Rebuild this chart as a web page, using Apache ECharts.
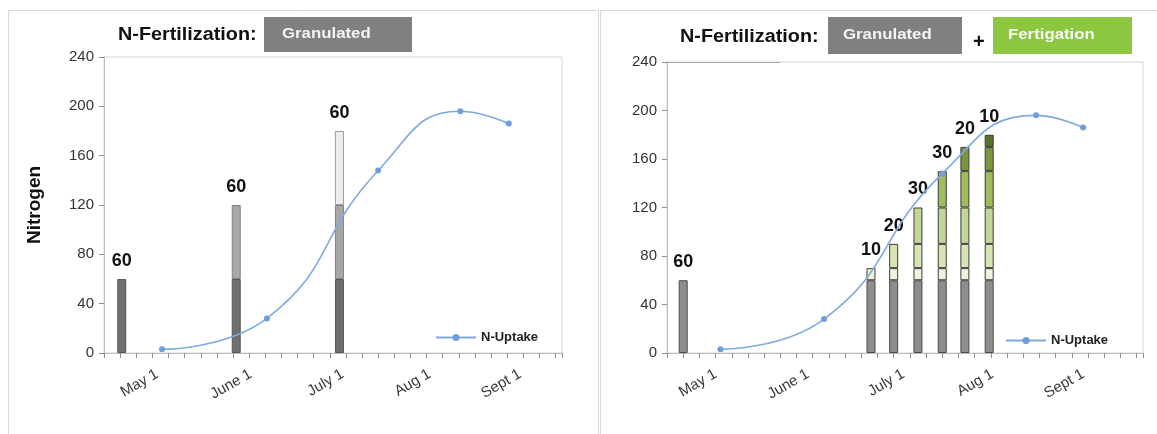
<!DOCTYPE html>
<html>
<head>
<meta charset="utf-8">
<script src="https://cdn.jsdelivr.net/npm/echarts@6/dist/echarts.min.js"></script>
<style>
  html, body { margin: 0; padding: 0; background: #ffffff; }
  #chart { width: 1157px; height: 434px; }
</style>
</head>
<body>
<div id="chart"></div>
<script>
// x positions are days counted from April 14 (day 0)
const monthLabels = ['May 1', 'June 1', 'July 1', 'Aug 1', 'Sept 1'];
const leftMonthDays = [16.5, 45.5, 74, 101, 129];
const rightMonthDays = [15, 43.5, 73, 100.5, 128.5];

// crop N uptake
const uptakeValues = [3, 28, 148, 196, 186];
const leftUptakeDays = [18, 50.5, 85, 110.5, 125.5];
const rightUptakeDays = [16.5, 48.5, 85, 114, 128.5];

// granulated only: three applications
const leftApplyDays = [5.5, 41, 73];
const leftApplyAmounts = [60, 60, 60];

// granulated start + weekly fertigation
const rightApplyDays = [5, 63, 70, 77.5, 85, 92, 99.5];
const rightApplyAmounts = [60, 10, 20, 30, 30, 20, 10];

const FONT = "'Liberation Sans', Arial, sans-serif";

const leftColors = ['#6f6f6f', '#a7a7a7', '#eeeeee'];
const leftBorders = ['#585858', '#828282', '#9c9c9c'];
const rightColors = ['#8e8e8e', '#eef3dc', '#d7e4b3', '#c2d699', '#9ebd5b', '#78963b', '#57742b'];
const rightBorders = ['#4a4a4a', '#3c3c3c', '#3c3c3c', '#3c3c3c', '#3c3c3c', '#3c3c3c', '#3c3c3c'];

// Every bar shows the cumulative N applied so far; its newest dose sits on top and is labelled.
// Items are stored as [amount, day] so the amount is the dimension that gets stacked.
function cumulativeBars(days, amounts, colors, borders, axisIndex, stackName) {
  return amounts.map((amt, j) => ({
    type: 'bar',
    xAxisIndex: axisIndex,
    yAxisIndex: axisIndex,
    stack: stackName,
    barWidth: 9,
    encode: { x: 1, y: 0 },
    data: days.map((d, k) => k >= j
      ? { value: [amt, d], label: { show: k === j } }
      : { value: [null, d] }),
    itemStyle: { color: colors[j], borderColor: borders[j], borderWidth: 1 },
    label: {
      show: false,
      position: 'top',
      distance: 9,
      formatter: p => p.value[0],
      fontFamily: FONT,
      fontWeight: 'bold',
      fontSize: 18,
      color: '#111'
    },
    emphasis: { disabled: true },
    z: 2
  }));
}

function uptakeLine(days, axisIndex) {
  return {
    type: 'line',
    name: 'N-Uptake',
    xAxisIndex: axisIndex,
    yAxisIndex: axisIndex,
    data: days.map((d, i) => [d, uptakeValues[i]]),
    smooth: 0.5,
    symbol: 'circle',
    symbolSize: 6,
    lineStyle: { color: '#80a9dd', width: 1.6 },
    itemStyle: { color: '#6f9ed8' },
    z: 5
  };
}

function xAxisFor(gridIndex, maxDay, labelDays) {
  return {
    type: 'value',
    gridIndex,
    min: 0,
    max: maxDay,
    interval: 5,
    axisLine: { show: true, lineStyle: { color: '#bdbdbd', width: 1 } },
    axisTick: { show: true, length: 5, lineStyle: { color: '#8f8f8f' } },
    axisLabel: {
      customValues: labelDays,
      formatter: v => monthLabels[labelDays.indexOf(v)],
      rotate: 30,
      margin: 20,
      fontFamily: FONT,
      fontSize: 15,
      color: '#383838'
    },
    splitLine: { show: false }
  };
}

function yAxisFor(gridIndex, withName) {
  const axis = {
    type: 'value',
    gridIndex,
    min: 0,
    max: 240,
    interval: 40,
    axisLine: { show: true, lineStyle: { color: '#bdbdbd', width: 1 } },
    axisTick: { show: true, length: 5, lineStyle: { color: '#8f8f8f' } },
    axisLabel: { fontFamily: FONT, fontSize: 15, color: '#333', margin: 10 },
    splitLine: { show: false }
  };
  if (withName) {
    axis.name = 'Nitrogen';
    axis.nameLocation = 'middle';
    axis.nameGap = 60;
    axis.nameTextStyle = { fontFamily: FONT, fontWeight: 'bold', fontSize: 19, color: '#111' };
  }
  return axis;
}

function headerText(x, y, text, size, color, stretch) {
  return {
    type: 'text', x, y, scaleX: stretch, silent: true,
    style: { text, font: `bold ${size}px ${FONT}`, fill: color, verticalAlign: 'middle' }
  };
}

const chart = echarts.init(document.getElementById('chart'), null, { renderer: 'canvas' });

chart.setOption({
  backgroundColor: '#ffffff',
  animation: false,
  grid: [
    { left: 104, top: 57, width: 458, height: 296, show: true, borderColor: '#d6d6d6', borderWidth: 1 },
    { left: 667, top: 62, width: 476, height: 291, show: true, borderColor: '#d6d6d6', borderWidth: 1 }
  ],
  xAxis: [xAxisFor(0, 142, leftMonthDays), xAxisFor(1, 147, rightMonthDays)],
  yAxis: [yAxisFor(0, true), yAxisFor(1, false)],
  legend: [
    {
      data: ['N-Uptake'], left: 430, top: 326, itemWidth: 40, itemHeight: 9, itemGap: 6,
      textStyle: { fontFamily: FONT, fontWeight: 'bold', fontSize: 13, color: '#222' }
    },
    {
      data: ['N-Uptake'], left: 1000, top: 329, itemWidth: 40, itemHeight: 9, itemGap: 6,
      textStyle: { fontFamily: FONT, fontWeight: 'bold', fontSize: 13, color: '#222' }
    }
  ],
  series: [
    ...cumulativeBars(leftApplyDays, leftApplyAmounts, leftColors, leftBorders, 0, 'left'),
    ...cumulativeBars(rightApplyDays, rightApplyAmounts, rightColors, rightBorders, 1, 'right'),
    uptakeLine(leftUptakeDays, 0),
    uptakeLine(rightUptakeDays, 1)
  ],
  graphic: [
    // panel frames
    { type: 'rect', silent: true, shape: { x: 8.5, y: 10.5, width: 590, height: 440 },
      style: { fill: null, stroke: '#d9d9d9', lineWidth: 1 } },
    { type: 'rect', silent: true, shape: { x: 600.5, y: 10.5, width: 570, height: 440 },
      style: { fill: null, stroke: '#d9d9d9', lineWidth: 1 } },
    // left header
    headerText(118, 35, 'N-Fertilization:', 18, '#111', 1.1),
    { type: 'rect', silent: true, shape: { x: 264, y: 17, width: 148, height: 35 }, style: { fill: '#808080' } },
    headerText(282, 34, 'Granulated', 14, '#f4f4f4', 1.2),
    // right header
    headerText(680, 37, 'N-Fertilization:', 18, '#111', 1.1),
    { type: 'rect', silent: true, shape: { x: 828, y: 17, width: 134, height: 37 }, style: { fill: '#808080' } },
    headerText(843, 35, 'Granulated', 14, '#f4f4f4', 1.2),
    headerText(973, 42, '+', 20, '#111', 1),
    { type: 'rect', silent: true, shape: { x: 993, y: 17, width: 139, height: 37 }, style: { fill: '#8dc63f' } },
    headerText(1008, 35, 'Fertigation', 14, '#f8f8f8', 1.2),
    { type: 'line', silent: true, shape: { x1: 667, y1: 62.5, x2: 780, y2: 62.5 },
      style: { stroke: '#a8a8a8', lineWidth: 1 } }
  ]
});
</script>
</body>
</html>
